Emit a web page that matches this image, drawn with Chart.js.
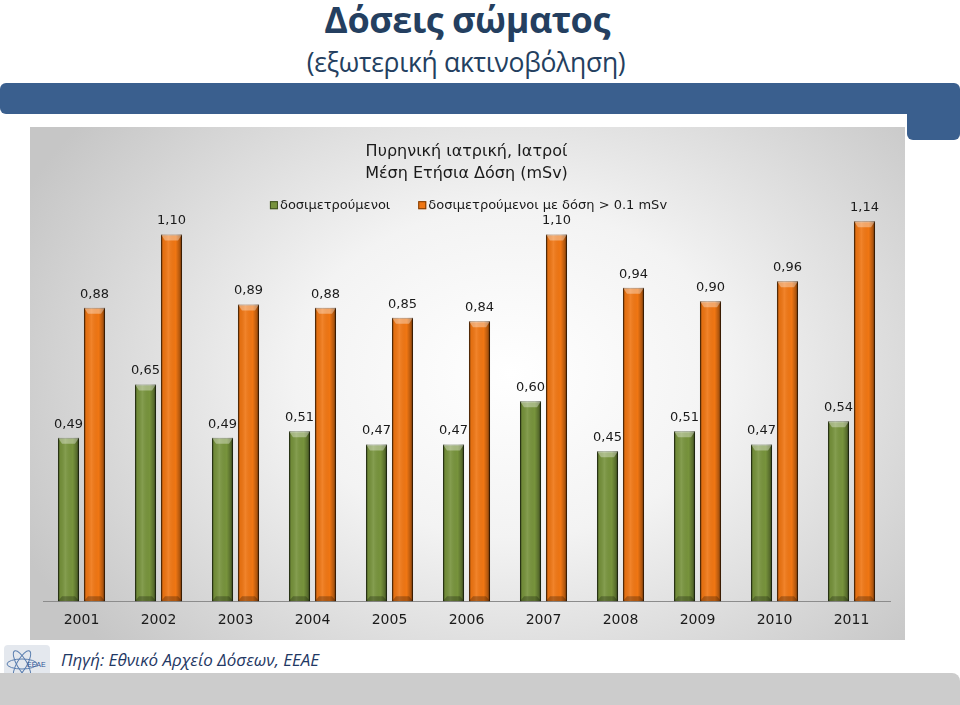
<!DOCTYPE html>
<html>
    <head>
        <meta http-equiv="Content-Type" content="text/html; charset=UTF-8">
        <title>Δόσεις σώματος</title>
        <script src="https://cdn.jsdelivr.net/npm/chart.js@4/dist/chart.umd.min.js"></script>
        <style type="text/css">
            html, body { margin: 0; padding: 0; background: #ffffff; }
            body { width: 960px; height: 705px; position: relative; overflow: hidden; font-family: "Open Sans", sans-serif; }
            h1 {
                position: absolute; left: -13px; top: -5px; width: 960px; margin: 0;
                text-align: center; font-size: 36px; font-weight: 700; color: #243f60; letter-spacing: -0.5px;
            }
            h2 {
                position: absolute; left: -14px; top: 44px; width: 960px; margin: 0;
                text-align: center; font-size: 26.5px; font-weight: 400; color: #243f60; letter-spacing: -0.3px;
            }
            .band { position: absolute; left: 0; top: 83px; width: 960px; height: 31px; background: #3a5f8e; border-radius: 6px 6px 0 6px; }
            .tab { position: absolute; left: 907px; top: 100px; width: 53px; height: 40px; background: #3a5f8e; border-radius: 0 0 6px 6px; }
            .box {
                position: absolute; left: 30px; top: 127px; width: 875px; height: 513px;
                background: radial-gradient(ellipse 62% 80% at 55% 48%, #ffffff 0%, #f3f3f3 40%, #c6c6c6 100%);
            }
            .foot { position: absolute; left: 0; top: 673px; width: 960px; height: 40px; background: #cccccc; border-radius: 0 8px 0 0; }
            .source { position: absolute; left: 61px; top: 648px; font-size: 17px; font-style: italic; color: #1f3864; }
            .logo { position: absolute; left: 4px; top: 645px; }
        </style>
    </head>
    <body>
        <h1>Δόσεις σώματος</h1>
        <h2>(εξωτερική ακτινοβόληση)</h2>
        <div class="band"></div>
        <div class="tab"></div>

        <div class="box">
            <canvas id="doses"></canvas>
        </div>

        <svg class="logo" width="46" height="38" viewBox="0 0 46 38">
            <rect x="0" y="0" width="46" height="38" rx="4" fill="#e4e8ee"></rect>
            <ellipse cx="18" cy="19" rx="15" ry="5" fill="none" stroke="#5b7fb0" stroke-width="1"></ellipse>
            <ellipse cx="18" cy="19" rx="15" ry="5" fill="none" stroke="#5b7fb0" stroke-width="1" transform="rotate(60 18 19)"></ellipse>
            <ellipse cx="18" cy="19" rx="15" ry="5" fill="none" stroke="#5b7fb0" stroke-width="1" transform="rotate(-60 18 19)"></ellipse>
            <text x="23" y="22" font-family="Liberation Sans" font-size="7" fill="#2f5496">ΕΕΑΕ</text>
        </svg>
        <div class="source">Πηγή: Εθνικό Αρχείο Δόσεων, ΕΕΑΕ</div>
        <div class="foot"></div>

        <script>
            // chart values
            var years = ['2001', '2002', '2003', '2004', '2005', '2006', '2007', '2008', '2009', '2010', '2011'];
            var allMonitored = [0.49, 0.65, 0.49, 0.51, 0.47, 0.47, 0.60, 0.45, 0.51, 0.47, 0.54];
            var aboveThreshold = [0.88, 1.10, 0.89, 0.88, 0.85, 0.84, 1.10, 0.94, 0.90, 0.96, 1.14];
            var seriesNames = ['δοσιμετρούμενοι', 'δοσιμετρούμενοι με δόση > 0.1 mSv'];
            var chartTitle = ['Πυρηνική ιατρική, Ιατροί', 'Μέση Ετήσια Δόση (mSv)'];

            //shades each bar so it looks like the rounded office style bars
            var barShade = {
                id: 'barShade',
                afterDatasetsDraw: function (chart) {
                    var ctx = chart.ctx;
                    chart.data.datasets.forEach(function (ds, di) {
                        var meta = chart.getDatasetMeta(di);
                        meta.data.forEach(function (bar) {
                            var p = bar.getProps(['x', 'y', 'base', 'width'], true);
                            var left = p.x - p.width / 2;
                            var h = p.base - p.y;
                            var g = ctx.createLinearGradient(left, 0, left + p.width, 0);
                            g.addColorStop(0, 'rgba(0,0,0,0.45)');
                            g.addColorStop(0.12, 'rgba(0,0,0,0.05)');
                            g.addColorStop(0.35, 'rgba(255,255,255,0.10)');
                            g.addColorStop(0.7, 'rgba(0,0,0,0)');
                            g.addColorStop(0.88, 'rgba(0,0,0,0.25)');
                            g.addColorStop(1, 'rgba(0,0,0,0.6)');
                            ctx.save();
                            ctx.fillStyle = g;
                            ctx.fillRect(left, p.y, p.width, h);
                            // top bevel
                            ctx.fillStyle = 'rgba(255,255,255,0.35)';
                            ctx.beginPath();
                            ctx.moveTo(left, p.y);
                            ctx.lineTo(left + p.width, p.y);
                            ctx.lineTo(left + p.width - 4, p.y + 6);
                            ctx.lineTo(left + 4, p.y + 6);
                            ctx.closePath();
                            ctx.fill();
                            // bottom bevel
                            ctx.fillStyle = 'rgba(0,0,0,0.25)';
                            ctx.beginPath();
                            ctx.moveTo(left, p.base);
                            ctx.lineTo(left + p.width, p.base);
                            ctx.lineTo(left + p.width - 4, p.base - 5);
                            ctx.lineTo(left + 4, p.base - 5);
                            ctx.closePath();
                            ctx.fill();
                            ctx.restore();
                        });
                    });
                }
            };

            //value labels on top of the bars, greek style decimal comma
            var valueLabels = {
                id: 'valueLabels',
                afterDatasetsDraw: function (chart) {
                    var ctx = chart.ctx;
                    ctx.save();
                    ctx.font = '13px "DejaVu Sans"';
                    ctx.fillStyle = '#1a1a1a';
                    ctx.textAlign = 'center';
                    ctx.textBaseline = 'bottom';
                    chart.data.datasets.forEach(function (ds, di) {
                        var meta = chart.getDatasetMeta(di);
                        meta.data.forEach(function (bar, i) {
                            var txt = ds.data[i].toFixed(2).replace('.', ',');
                            ctx.fillText(txt, bar.x, bar.y - 7);
                        });
                    });
                    ctx.restore();
                }
            };

            //legend sits inside the plot, one row, centred over the bars
            var innerLegend = {
                id: 'innerLegend',
                afterDraw: function (chart) {
                    var ctx = chart.ctx;
                    var area = chart.chartArea;
                    var box = 8, gap = 2, spacing = 28;
                    ctx.save();
                    ctx.font = '13px "DejaVu Sans"';
                    var widths = chart.data.datasets.map(function (ds) { return ctx.measureText(ds.label).width; });
                    var total = 0;
                    widths.forEach(function (w, i) { total += box + gap + w + (i > 0 ? spacing : 0); });
                    var x = (area.left + area.right) / 2 - total / 2 + 2;
                    var y = area.top + 4;
                    ctx.textBaseline = 'middle';
                    ctx.textAlign = 'left';
                    chart.data.datasets.forEach(function (ds, i) {
                        ctx.fillStyle = ds.backgroundColor;
                        ctx.fillRect(x, y - box / 2, box, box);
                        ctx.strokeStyle = ds.borderColor;
                        ctx.lineWidth = 1;
                        ctx.strokeRect(x + 0.5, y - box / 2 + 0.5, box - 1, box - 1);
                        ctx.fillStyle = '#1a1a1a';
                        ctx.fillText(ds.label, x + box + gap, y);
                        x += box + gap + widths[i] + spacing;
                    });
                    ctx.restore();
                }
            };

            var doses = document.getElementById('doses').getContext('2d');
            var doseChart = new Chart(doses, {
                type: 'bar',
                data: {
                    labels: years,
                    datasets: [{
                        label: seriesNames[0],
                        data: allMonitored,
                        backgroundColor: '#77933c',
                        borderColor: '#3f5020',
                        borderWidth: 1,
                        categoryPercentage: 0.675,
                        barPercentage: 0.81
                    }, {
                        label: seriesNames[1],
                        data: aboveThreshold,
                        backgroundColor: '#f07613',
                        borderColor: '#7a3a05',
                        borderWidth: 1,
                        categoryPercentage: 0.675,
                        barPercentage: 0.81
                    }]
                },
                options: {
                    responsive: true,
                    maintainAspectRatio: false,
                    animation: false,
                    layout: { padding: { left: 13, right: 15, top: 14, bottom: 0 } },
                    scales: {
                        x: {
                            grid: { display: false, drawTicks: false },
                            border: { display: true, color: '#8c8c8c', width: 1 },
                            ticks: { color: '#1a1a1a', padding: 11, font: { family: 'DejaVu Sans', size: 14 } }
                        },
                        y: { display: false, min: 0, max: 1.2 }
                    },
                    plugins: {
                        title: {
                            display: true,
                            text: chartTitle,
                            color: '#1a1a1a',
                            font: { family: 'DejaVu Sans', size: 16, weight: 'normal', lineHeight: 1.35 },
                            padding: { top: 0, bottom: 17 }
                        },
                        legend: { display: false },
                        tooltip: { enabled: false }
                    }
                },
                plugins: [barShade, valueLabels, innerLegend]
            });
        </script>
    </body>
</html>
